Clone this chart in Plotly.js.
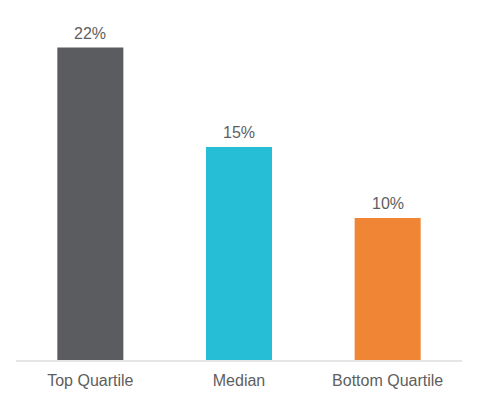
<!DOCTYPE html>
<html>
<head>
<meta charset="utf-8">
<script src="https://cdn.plot.ly/plotly-3.0.1.min.js"></script>
<style>html,body{margin:0;padding:0;background:#fff;}#chart{width:480px;height:412px;}</style>
</head>
<body>
<div id="chart"></div>
<script>
const categories = ["Top Quartile", "Median", "Bottom Quartile"];
const values = [22, 15, 10];
const labels = ["22%", "15%", "10%"];
const colors = ["#5b5c60", "#25bed6", "#ef8535"];

const trace = {
  type: "bar",
  x: categories,
  y: values,
  cliponaxis: false,
  marker: {color: colors, line: {width: 0}},
  hoverinfo: "none"
};

const annotations = categories.map((c, i) => ({
  x: c,
  y: values[i],
  xref: "x",
  yref: "y",
  text: labels[i],
  showarrow: false,
  yanchor: "bottom",
  yshift: 4,
  font: {family: "Liberation Sans, Arial, sans-serif", size: 16, color: "#5e5e5e"}
}));

const layout = {
  width: 480,
  height: 412,
  margin: {l: 16, r: 18, t: 5, b: 52},
  paper_bgcolor: "#ffffff",
  plot_bgcolor: "#ffffff",
  bargap: 0.556,
  showlegend: false,
  annotations: annotations,
  font: {family: "Liberation Sans, Arial, sans-serif", color: "#5e5e5e"},
  xaxis: {
    showline: true,
    linecolor: "#e6e6e6",
    linewidth: 1.5,
    ticks: "outside",
    ticklen: 5,
    tickcolor: "rgba(0,0,0,0)",
    tickfont: {size: 16, color: "#5e5e5e"},
    showgrid: false,
    zeroline: false
  },
  yaxis: {
    range: [0, 25],
    visible: false,
    showgrid: false,
    zeroline: false
  }
};

Plotly.newPlot("chart", [trace], layout, {staticPlot: true, displayModeBar: false});
</script>
</body>
</html>
